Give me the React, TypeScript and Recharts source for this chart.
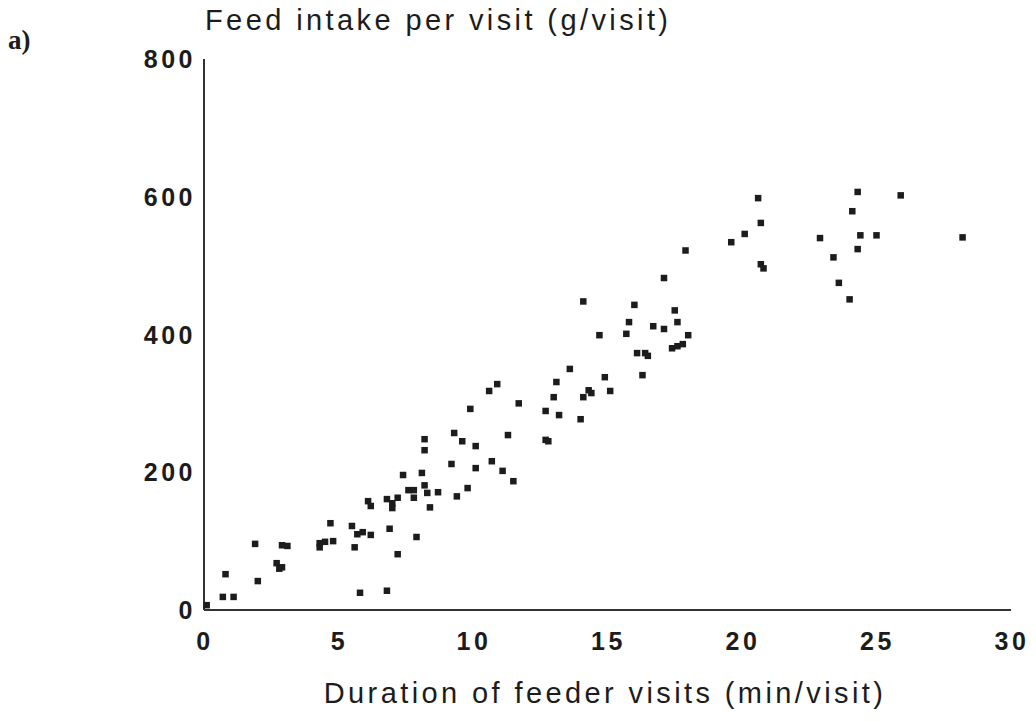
import { ScatterChart, Scatter, XAxis, YAxis } from 'recharts'

// duration of feeder visits (min/visit)
const durations = [
  0.1, 0.7, 1.1, 0.8, 2.0, 1.9, 2.9, 3.1, 2.7, 2.9, 2.8,
  4.3, 4.5, 4.8, 4.3, 4.7, 5.5, 5.7, 5.9, 6.2, 5.6, 5.8, 6.8, 6.9, 7.9, 7.2,
  6.1, 6.2, 6.8, 7.0, 7.0, 7.2, 7.4, 7.6, 7.8, 7.8,
  8.2, 8.2, 8.1, 8.2, 8.3, 8.7, 8.4, 9.2, 9.4, 9.8, 9.3, 9.6, 10.1, 10.1, 10.7,
  9.9, 10.6, 10.9, 11.1, 11.5, 11.3, 11.7, 12.7, 12.8, 12.7, 13.0, 13.1, 13.2,
  13.6, 14.0, 14.1, 14.3, 14.4, 14.1, 14.7, 14.9, 15.1,
  15.7, 15.8, 16.0, 16.1, 16.4, 16.5, 16.3, 16.7, 17.1, 17.1, 17.5, 17.6,
  17.4, 17.6, 17.8, 18.0, 17.9,
  20.6, 20.7, 20.1, 19.6, 20.7, 20.8,
  24.3, 25.9, 24.1, 22.9, 24.4, 25.0, 24.3, 23.4, 23.6, 24.0, 28.2,
]

// feed intake per visit (g/visit)
const intakes = [
  7, 19, 19, 52, 42, 96, 94, 93, 68, 62, 60,
  97, 99, 100, 91, 126, 122, 110, 113, 109, 91, 25, 28, 118, 106, 81,
  158, 151, 161, 155, 148, 163, 196, 174, 174, 163,
  248, 232, 199, 181, 170, 171, 149, 212, 165, 177, 257, 245, 238, 206, 216,
  292, 318, 328, 202, 187, 254, 300, 247, 245, 289, 309, 331, 283,
  350, 277, 309, 319, 315, 448, 399, 338, 318,
  401, 418, 443, 373, 373, 369, 341, 412, 408, 482, 435, 418,
  380, 383, 386, 399, 522,
  598, 562, 546, 534, 502, 496,
  607, 602, 579, 540, 544, 544, 524, 512, 475, 451, 541,
]

const xTicks = [0, 5, 10, 15, 20, 25, 30]
const yTicks = [0, 200, 400, 600, 800]

const points = durations.map((x, i) => ({ x, y: intakes[i] }))

const sans = '"Liberation Sans", Arial, Helvetica, sans-serif'
const ink = '#1c1c1c'

function SquareDot({ cx, cy }: { cx?: number; cy?: number }) {
  if (cx == null || cy == null) return null
  return <rect x={cx - 3.25} y={cy - 3.25} width={6.5} height={6.5} fill={ink} />
}

function YTick({ x, y, payload }: any) {
  return (
    <text
      x={x}
      y={y + 9}
      textAnchor="end"
      fontFamily={sans}
      fontSize={25}
      fontWeight="bold"
      letterSpacing={3.5}
      fill={ink}
    >
      {payload.value}
    </text>
  )
}

function XTick({ x, y, payload }: any) {
  return (
    <text
      x={x + 1}
      y={y + 32}
      textAnchor="middle"
      fontFamily={sans}
      fontSize={25}
      fontWeight="bold"
      letterSpacing={3.5}
      fill={ink}
    >
      {payload.value}
    </text>
  )
}

export default function App() {
  return (
    <div
      style={{
        position: 'absolute',
        left: 0,
        top: 0,
        width: 1036,
        height: 721,
        background: '#fff',
        overflow: 'hidden',
      }}
    >
      <div
        style={{
          position: 'absolute',
          left: 8,
          top: 24,
          fontFamily: '"Liberation Serif", "Times New Roman", serif',
          fontSize: 27,
          fontWeight: 'bold',
          color: ink,
          lineHeight: '32px',
        }}
      >
        a)
      </div>
      <div
        style={{
          position: 'absolute',
          left: 205,
          top: 3,
          fontFamily: sans,
          fontSize: 29,
          letterSpacing: 3.4,
          color: ink,
          lineHeight: '34px',
          whiteSpace: 'nowrap',
        }}
      >
        Feed intake per visit (g/visit)
      </div>
      <div
        style={{
          position: 'absolute',
          left: 0,
          width: 1210,
          top: 676,
          textAlign: 'center',
          fontFamily: sans,
          fontSize: 29,
          letterSpacing: 3.4,
          color: ink,
          lineHeight: '34px',
          whiteSpace: 'nowrap',
        }}
      >
        Duration of feeder visits (min/visit)
      </div>

      <div style={{ position: 'absolute', left: 0, top: 0 }}>
        <ScatterChart
          width={1036}
          height={721}
          margin={{ top: 59, right: 25, bottom: 81, left: 150 }}
        >
          <XAxis
            type="number"
            dataKey="x"
            domain={[0, 30]}
            ticks={xTicks}
            height={30}
            tickLine={false}
            axisLine={{ stroke: '#333', strokeWidth: 2 }}
            tick={<XTick />}
            interval={0}
          />
          <YAxis
            type="number"
            dataKey="y"
            domain={[0, 800]}
            ticks={yTicks}
            width={54}
            tickLine={false}
            axisLine={{ stroke: '#333', strokeWidth: 2 }}
            tick={<YTick />}
            interval={0}
          />
          <Scatter data={points} shape={<SquareDot />} isAnimationActive={false} />
        </ScatterChart>
      </div>
    </div>
  )
}
